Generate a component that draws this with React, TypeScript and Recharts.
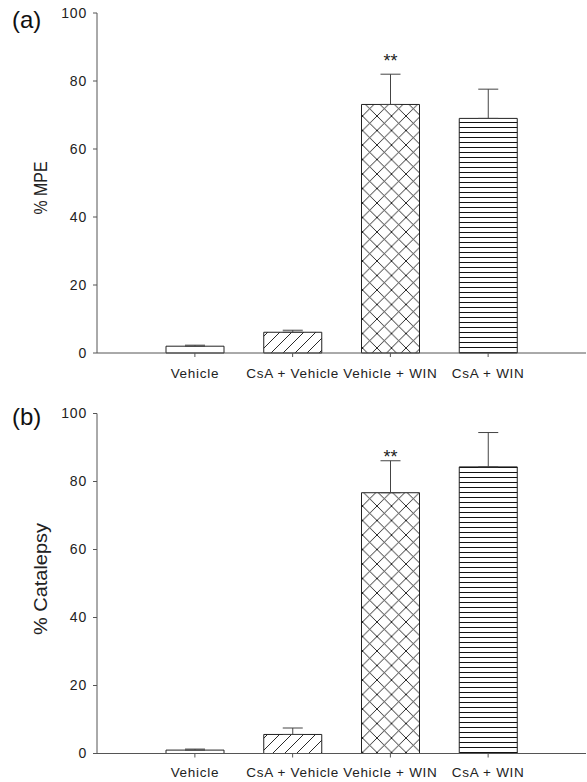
import React from 'react';
import { BarChart, Bar, XAxis, YAxis, Cell, ErrorBar, LabelList } from 'recharts';

// group labels along the x axis
const groups = ['Vehicle', 'CsA + Vehicle', 'Vehicle + WIN', 'CsA + WIN'];

// (a) % MPE
const mpeMean = [2.0, 6.1, 73.1, 69.0];
const mpeSem = [0.3, 0.6, 8.9, 8.6];
const mpeSig = ['', '', '**', ''];

// (b) % Catalepsy
const catMean = [1.0, 5.6, 76.7, 84.3];
const catSem = [0.3, 1.9, 9.4, 10.1];
const catSig = ['', '', '**', ''];

const yTicks = [0, 20, 40, 60, 80, 100];

const fills = ['url(#pEmpty)', 'url(#pDiag)', 'url(#pCross)', 'url(#pHoriz)'];

const FONT = '"Liberation Sans", Arial, Helvetica, sans-serif';
const AXIS = '#555';

const build = (mean: number[], sem: number[], sig: string[]) =>
  groups.map((g, i) => ({ group: g, mean: mean[i], err: [0, sem[i]], sem: sem[i], sig: sig[i] }));

const Patterns = () => (
  <defs>
    <pattern id="pEmpty" patternUnits="userSpaceOnUse" width="10" height="10">
      <rect width="10" height="10" fill="#fff" />
    </pattern>
    <pattern id="pDiag" patternUnits="userSpaceOnUse" width="12" height="12">
      <rect width="12" height="12" fill="#fff" />
      <path d="M0,12 L12,0 M-3,3 L3,-3 M9,15 L15,9" stroke="#111" strokeWidth="0.9" />
    </pattern>
    <pattern id="pCross" patternUnits="userSpaceOnUse" width="14.5" height="14.5">
      <rect width="14.5" height="14.5" fill="#fff" />
      <path d="M0,14.5 L14.5,0 M0,0 L14.5,14.5" stroke="#111" strokeWidth="0.9" />
    </pattern>
    <pattern id="pHoriz" patternUnits="userSpaceOnUse" width="10" height="5">
      <rect width="10" height="5" fill="#fff" />
      <path d="M0,2.5 L10,2.5" stroke="#111" strokeWidth="1" />
    </pattern>
  </defs>
);

const sigLabel = (gap: number, rows: { mean: number; sem: number }[]) => (props: any) => {
  const { x, y, width, height, value, index } = props;
  if (!value) return null;
  const row = rows[index];
  const perUnit = height / row.mean;
  const top = y - row.sem * perUnit;
  return (
    <text x={x + width / 2} y={top - gap} textAnchor="middle" fontSize={18} fontFamily={FONT} fill="#222">
      {value}
    </text>
  );
};

type PanelProps = {
  mean: number[];
  sem: number[];
  sig: string[];
  height: number;
  top: number;
  bottom: number;
  axisH: number;
  tickGap: number;
  sigGap: number;
};

const Panel = ({ mean, sem, sig, height, top, bottom, axisH, tickGap, sigGap }: PanelProps) => {
  const rows = build(mean, sem, sig);
  return (
    <BarChart width={587} height={height} data={rows} margin={{ top, right: 1, bottom, left: 0 }}>
      <Patterns />
      <XAxis
        dataKey="group"
        height={axisH}
        padding={{ left: 49, right: 49 }}
        stroke={AXIS}
        tickSize={4}
        tickMargin={tickGap}
        tick={{ fill: '#222', fontSize: 13.5, fontFamily: FONT, letterSpacing: 0.7 }}
        interval={0}
      />
      <YAxis
        domain={[0, 100]}
        ticks={yTicks}
        width={97}
        stroke={AXIS}
        tickSize={4}
        tickMargin={6}
        tick={{ fill: '#222', fontSize: 14, fontFamily: FONT, letterSpacing: 0.8 }}
      />
      <Bar dataKey="mean" barSize={58} isAnimationActive={false}>
        {rows.map((r, i) => (
          <Cell key={r.group} fill={fills[i]} stroke="#222" strokeWidth={1} />
        ))}
        <ErrorBar dataKey="err" width={10} stroke="#444" strokeWidth={1} direction="y" isAnimationActive={false} />
        <LabelList dataKey="sig" content={sigLabel(sigGap, rows)} />
      </Bar>
    </BarChart>
  );
};

export default function App() {
  return (
    <div style={{ position: 'absolute', left: 0, top: 0, width: 587, height: 782, background: '#fff' }}>
      <Panel mean={mpeMean} sem={mpeSem} sig={mpeSig} height={390} top={13} bottom={7} axisH={30} tickGap={11} sigGap={7} />
      <Panel mean={catMean} sem={catSem} sig={catSig} height={392} top={23.5} bottom={3.5} axisH={25} tickGap={10} sigGap={-2} />
      <svg width={587} height={782} style={{ position: 'absolute', left: 0, top: 0, pointerEvents: 'none' }}>
        <text x={12} y={28} fontSize={24} fontFamily={FONT} fill="#111">(a)</text>
        <text x={12} y={425} fontSize={24} fontFamily={FONT} fill="#111">(b)</text>
        <text
          transform="translate(47,188) rotate(-90)"
          textAnchor="middle"
          fontSize={18}
          fontFamily={FONT}
          fill="#222"
          textLength={53}
          lengthAdjust="spacingAndGlyphs"
        >
          % MPE
        </text>
        <text
          transform="translate(47,579) rotate(-90)"
          textAnchor="middle"
          fontSize={19}
          fontFamily={FONT}
          fill="#222"
          textLength={112}
          lengthAdjust="spacingAndGlyphs"
        >
          % Catalepsy
        </text>
      </svg>
    </div>
  );
}
